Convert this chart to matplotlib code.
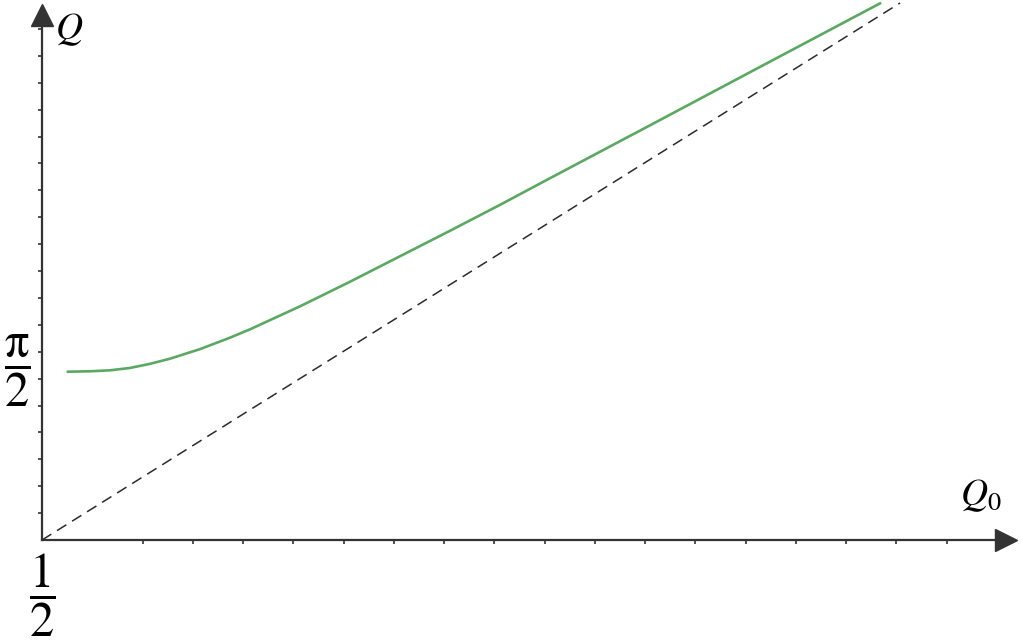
import numpy as np
import matplotlib.pyplot as plt

plt.rcParams['mathtext.fontset'] = 'stix'
plt.rcParams['font.family'] = ['Liberation Serif', 'DejaVu Serif']

# green curve Q(Q0)
q0_vals = [0.629, 0.739, 0.838, 0.938, 1.037, 1.137, 1.286, 1.435, 1.535,
           1.784, 2.032, 2.281, 2.530, 2.779, 3.027, 3.525, 4.022, 4.669]
q_vals = [1.564, 1.568, 1.577, 1.599, 1.637, 1.685, 1.774, 1.880, 1.958,
          2.172, 2.400, 2.637, 2.874, 3.115, 3.362, 3.854, 4.347, 4.987]

# dashed reference line (two ends)
dash_x = [0.5, 4.769]
dash_y = [0.0, 4.991]

x_ticks = np.arange(1.0, 5.01, 0.25)
y_ticks = np.arange(0.25, 4.76, 0.25)

fig = plt.figure(figsize=(10.22, 6.41), dpi=100)
# axes box in pixels: left 42, right 1000, bottom 540, top 10
ax = fig.add_axes([42 / 1022, 101 / 641, 958 / 1022, 530 / 641])
ax.set_xlim(0.5, 0.5 + 958 / 201)
ax.set_ylim(0, 530 / 107.6)

axis_col = '#333333'
for s in ['top', 'right']:
    ax.spines[s].set_visible(False)
for s in ['left', 'bottom']:
    ax.spines[s].set_color(axis_col)
    ax.spines[s].set_linewidth(1.6)

ax.set_xticks(x_ticks)
ax.set_yticks(y_ticks)
ax.set_xticklabels([])
ax.set_yticklabels([])
ax.tick_params(direction='out', length=3, width=1.2, color=axis_col)

ax.plot(dash_x, dash_y, color='#2b2b2b', lw=1.1, ls=(0, (7.2, 4.4)), clip_on=False)
ax.plot(q0_vals, q_vals, color='#5ba862', lw=1.9, clip_on=False,
        solid_joinstyle='round')

# arrow heads
ax.plot([0.5], [(540 - 15) / 107.6], marker='^', ms=15.8, color=axis_col,
        clip_on=False)
ax.plot([0.5 + (1006 - 42) / 201], [0], marker='>', ms=15.8, color=axis_col,
        clip_on=False)

ax.text(0.5 + 13 / 201, (540 - 30) / 107.6, r'$Q$', fontsize=27,
        ha='left', va='center')
ax.text(0.5 + 918 / 201, (540 - 496) / 107.6, r'$Q_0$', fontsize=27,
        ha='left', va='center')
ax.text(0.5 - 25 / 201, np.pi / 2, r'$\dfrac{\mathrm{\pi}}{2}$', fontsize=35,
        ha='center', va='center')
ax.text(0.5, -55 / 107.6, r'$\dfrac{1}{2}$', fontsize=35,
        ha='center', va='center')

fig.savefig('out.png', dpi=100)
